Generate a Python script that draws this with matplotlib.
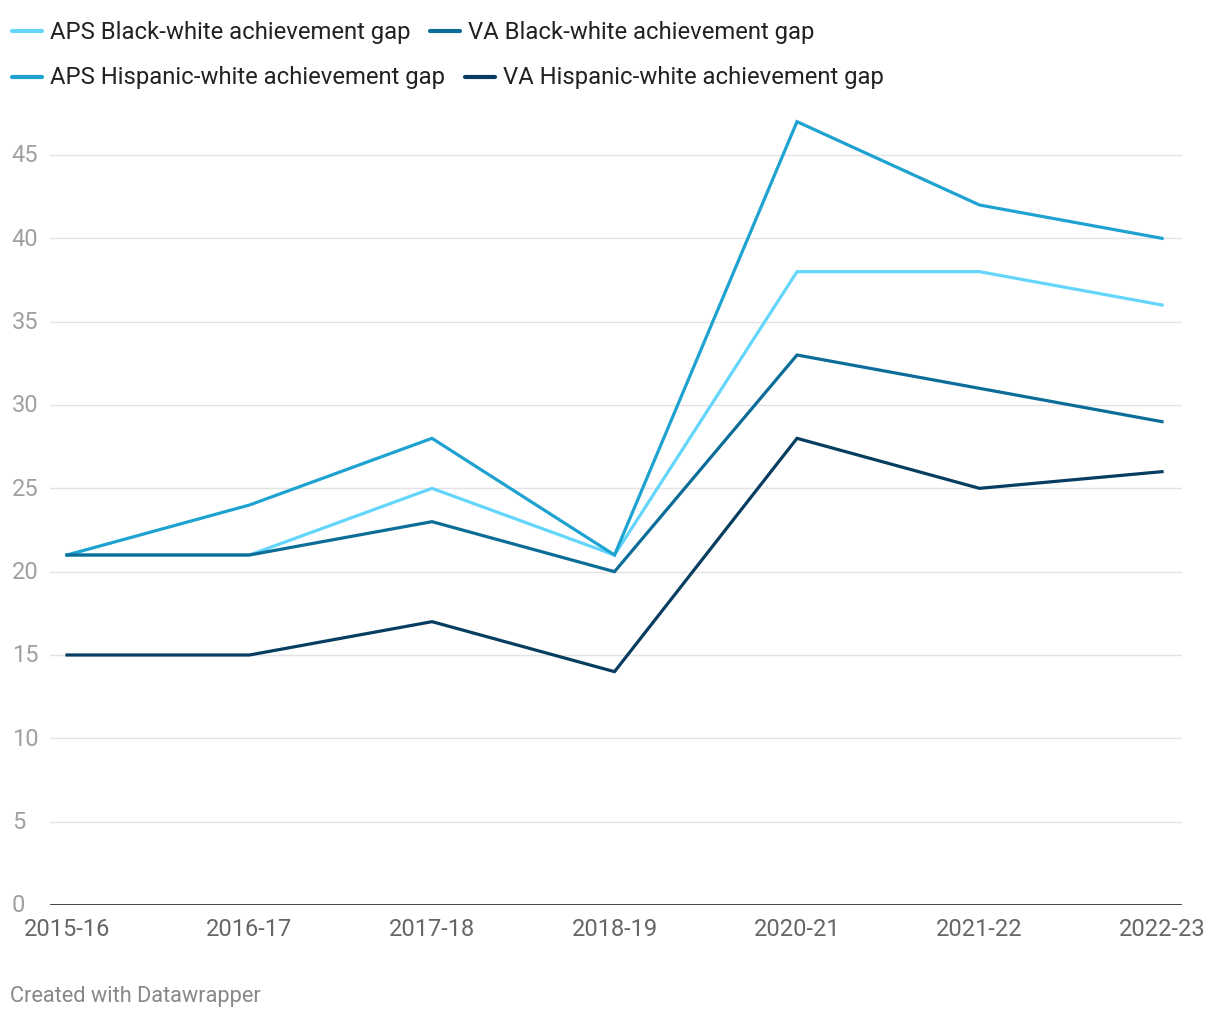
import matplotlib
matplotlib.use("Agg")
import matplotlib.pyplot as plt
from matplotlib.lines import Line2D

plt.rcParams['font.family'] = ['Roboto', 'DejaVu Sans']

years = ["2015-16", "2016-17", "2017-18", "2018-19", "2020-21", "2021-22", "2022-23"]
aps_black = [21, 21, 25, 21, 38, 38, 36]
aps_hisp = [21, 24, 28, 21, 47, 42, 40]
va_black = [21, 21, 23, 20, 33, 31, 29]
va_hisp = [15, 15, 17, 14, 28, 25, 26]
labels = ["APS Black-white achievement gap", "APS Hispanic-white achievement gap",
          "VA Black-white achievement gap", "VA Hispanic-white achievement gap"]
colors = ["#64d6fb", "#1ea2d0", "#0c6e98", "#063d60"]
yticks = [0, 5, 10, 15, 20, 25, 30, 35, 40, 45]

W, H = 1220, 1020
fig = plt.figure(figsize=(W / 100, H / 100), dpi=100)
left, right, bottom, top = 50, 1182, 906, 106
ax = fig.add_axes([left / W, 1 - bottom / H, (right - left) / W, (bottom - top) / H])

x = list(range(len(years)))
series = [aps_black, aps_hisp, va_black, va_hisp]
for s, c in zip(series, colors):
    ax.plot(x, s, color=c, lw=2.3, solid_joinstyle='miter', zorder=3)

step = (1162 - 67) / 6
ax.set_xlim(-(67 - left) / step, 6 + (right - 1162) / step)
ax.set_ylim(0, 48)
ax.set_yticks(yticks)
ax.set_yticklabels([str(v) for v in yticks])
ax.set_xticks(x)
ax.set_xticklabels(years)
ax.grid(axis='y', color='#e3e3e3', lw=1.0, zorder=0)
for sp in ax.spines.values():
    sp.set_visible(False)
ax.axhline(0, color='#111111', lw=1.8, zorder=4)
ax.tick_params(axis='y', length=0, pad=27.5, labelsize=17, labelcolor='#a0a0a0')
for t in ax.get_yticklabels():
    t.set_horizontalalignment('left')
    t.set_verticalalignment('center')
ax.tick_params(axis='x', length=0, pad=9, labelsize=17, labelcolor='#666666')

def legend_item(xh, yc, color, text):
    fig.add_artist(Line2D([xh / W, (xh + 30) / W], [1 - yc / H, 1 - yc / H],
                          color=color, lw=3, solid_capstyle='round'))
    fig.text((xh + 38) / W, 1 - yc / H, text, fontsize=17.2, color='#222222',
             va='center', ha='left')

legend_item(12, 32, colors[0], labels[0])
legend_item(430, 32, colors[2], labels[2])
legend_item(12, 78, colors[1], labels[1])
legend_item(465, 78, colors[3], labels[3])

fig.text(10 / W, 1 - 997 / H, "Created with Datawrapper", fontsize=15.7,
         color='#888888', va='center', ha='left')

fig.savefig("out.png", dpi=100, facecolor='white')
